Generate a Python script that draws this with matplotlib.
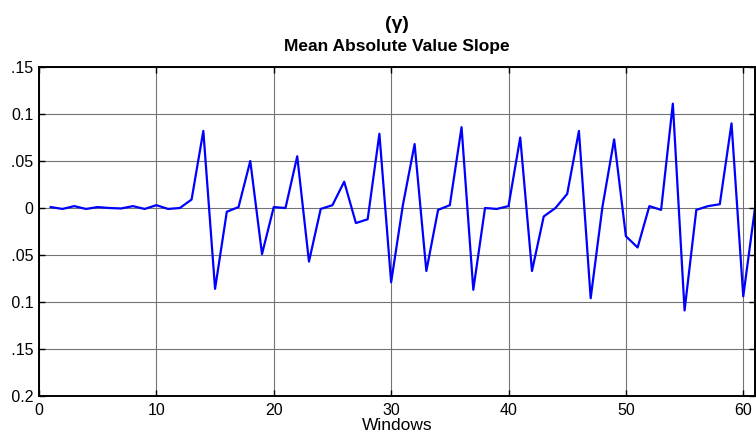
import matplotlib
matplotlib.use("Agg")
import matplotlib.pyplot as plt
from matplotlib.transforms import Bbox

# window index and MAV slope per window
windows = list(range(1, 62))
mav_slope = [0.001, -0.001, 0.002, -0.001, 0.001, 0.0, -0.0005, 0.002, -0.001, 0.003,
             -0.001, 0.0, 0.009, 0.082, -0.086, -0.004, 0.001, 0.050, -0.049, 0.001,
             0.0, 0.055, -0.057, -0.001, 0.003, 0.028, -0.016, -0.012, 0.079, -0.079,
             0.003, 0.068, -0.067, -0.002, 0.003, 0.086, -0.087, 0.0, -0.001, 0.002,
             0.075, -0.067, -0.009, 0.0, 0.015, 0.082, -0.096, 0.001, 0.073, -0.030,
             -0.042, 0.002, -0.002, 0.111, -0.109, -0.002, 0.002, 0.004, 0.090, -0.094,
             0.0]
x_ticks = [0, 10, 20, 30, 40, 50, 60]
y_ticks = [-0.2, -0.15, -0.1, -0.05, 0, 0.05, 0.1, 0.15]
y_labels = ['-0.2', '-0.15', '-0.1', '-0.05', '0', '0.05', '0.1', '0.15']

plt.rcParams['font.family'] = ['Liberation Sans', 'DejaVu Sans']

W, H = 756, 436
fig = plt.figure(figsize=(W / 100, H / 100), dpi=100)
ax = fig.add_axes([39 / W, 40 / H, 716 / W, 329 / H])

ax.plot(windows, mav_slope, color='#0000ff', lw=1.6)

ax.set_xlim(0, 61)
ax.set_ylim(-0.2, 0.15)
ax.set_xticks(x_ticks)
ax.set_yticks(y_ticks)
ax.set_yticklabels(y_labels)
ax.tick_params(direction='in', length=4, width=1, labelsize=11.5,
               top=True, right=True)
ax.tick_params(axis='x', pad=5)
ax.tick_params(axis='y', pad=4)
ax.grid(True, color='0.45', lw=0.8, ls='-')
for s in ax.spines.values():
    s.set_linewidth(1.4)

# the reference image is cut off on the left, through the y tick labels
left_cut = Bbox.from_extents(11.5, 0, W, H)
for lab in ax.get_yticklabels():
    lab.set_clip_box(left_cut)
    lab.set_clip_on(True)

ax.set_xlabel('Windows', fontsize=12.5, labelpad=0)

fig.text(397 / W, 1 - 29 / H, '(γ)', ha='center', va='baseline',
         fontsize=14, fontweight='bold')
fig.text(397 / W, 1 - 51 / H, 'Mean Absolute Value Slope', ha='center', va='baseline',
         fontsize=12.5, fontweight='bold')

fig.savefig('out.png', dpi=100)
